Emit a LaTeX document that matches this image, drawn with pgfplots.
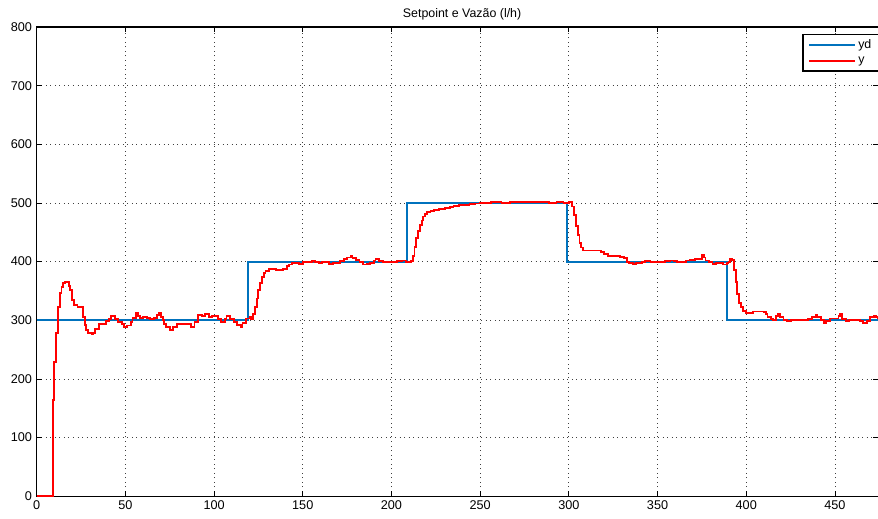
\documentclass[border=0pt]{standalone}
\usepackage{fontspec}
\setmainfont{Liberation Sans}
\usepackage{pgfplots}
\pgfplotsset{compat=1.18}
\definecolor{mblue}{rgb}{0,0.447,0.741}
\begin{document}
\begin{tikzpicture}
\begin{axis}[
 scale only axis, width=631pt, height=351.75pt,
 xmin=0, xmax=474.5, ymin=0, ymax=800,
 xtick={0,50,...,450}, ytick={0,100,...,800},
 grid=major, major grid style={dash pattern=on 0.6pt off 2.8pt, black!75, line width=0.6pt},
 tick align=inside, major tick length=4pt,
 axis line style={black, line width=0.8pt},
 tick style={black, line width=0.6pt},
 ticklabel style={font=\fontsize{9.5}{10}\selectfont},
 /pgf/number format/assume math mode=true,
 title={Setpoint e Vazão (l/h)},
 title style={font=\fontsize{9.3}{10}\selectfont, xshift=3.4pt, yshift=-4pt},
 legend style={at={(0.9096,0.986)}, anchor=north west, draw=black, line width=1.1pt, fill=white,
   font=\fontsize{9.3}{10}\selectfont, row sep=0.4pt, inner xsep=4pt, inner ysep=2.2pt},
 legend cell align=left,
 legend image code/.code={\draw[#1] (0pt,0pt) -- (34pt,0pt);},
]
\addlegendimage{mblue, line width=1.4pt}
\addlegendentry{yd}
\addlegendimage{red, line width=1.4pt}
\addlegendentry{y}
\addplot[const plot, mblue, line width=1.4pt, forget plot] coordinates {
(0,300)(119,400)(209,500)(299,400)(389,300)(475,300)};
\addplot[const plot, red, line width=1.4pt, forget plot] coordinates {
(0,0)(9,164)(10,229)(11,278)(12,322)(13,346)(14,356)(15,363)(16,365)(18,358)(19,351)(20,335)(21,326)(23,323)(25,322)(26,306)(27,292)(28,283)(29,279)(31,276)(32,279)(33,285)(35,293)(37,293)(39,298)(41,302)(42,307)(44,302)(46,297)(48,293)(49,289)(51,291)(53,297)(54,304)(56,313)(57,308)(58,304)(60,306)(62,304)(64,302)(66,304)(68,309)(69,313)(70,306)(71,300)(72,294)(73,289)(75,284)(77,288)(79,294)(82,293)(85,294)(87,288)(89,297)(91,309)(93,307)(95,310)(97,306)(99,307)(102,302)(104,297)(106,302)(107,307)(109,302)(111,297)(113,292)(115,288)(116,296)(118,303)(120,306)(121,302)(122,310)(123,322)(124,337)(125,352)(126,363)(127,374)(128,380)(129,384)(131,387)(133,387)(135,385)(137,386)(139,388)(141,392)(142,395)(144,398)(146,397)(148,396)(150,399)(153,400)(155,401)(157,399)(159,397)(161,400)(163,399)(165,396)(167,397)(169,398)(171,401)(173,404)(175,407)(177,409)(178,406)(180,403)(182,399)(184,395)(186,396)(188,398)(190,402)(191,404)(193,401)(195,400)(199,400)(203,401)(206,402)(208,400)(211,401)(212,410)(213,425)(214,440)(215,452)(216,462)(217,470)(218,477)(219,481)(220,484)(222,486)(224,488)(227,490)(230,491)(233,493)(235,495)(238,496)(241,496)(244,498)(247,499)(250,500)(256,501)(262,500)(267,501)(271,501)(274,502)(278,501)(284,501)(289,500)(293,501)(297,500)(300,501)(302,494)(303,480)(304,460)(305,445)(306,432)(307,424)(308,419)(312,419)(316,419)(318,416)(320,413)(322,410)(324,409)(327,409)(329,408)(331,406)(333,400)(334,397)(336,396)(338,398)(341,400)(343,401)(346,400)(349,399)(352,400)(354,401)(357,402)(359,401)(361,399)(364,400)(366,402)(368,403)(371,404)(374,405)(375,412)(376,407)(377,402)(379,399)(381,396)(383,397)(385,398)(387,395)(389,397)(390,400)(391,404)(392,403)(393,385)(394,365)(395,345)(396,330)(397,322)(398,316)(400,312)(402,312)(404,315)(406,315)(410,314)(411,310)(412,305)(414,302)(415,301)(417,307)(418,310)(419,306)(421,301)(423,299)(425,300)(427,301)(430,301)(433,300)(435,302)(437,306)(439,309)(440,305)(442,300)(444,295)(445,299)(447,303)(450,303)(452,308)(453,310)(454,302)(456,299)(458,301)(461,300)(464,299)(466,295)(468,299)(470,305)(472,308)(473,305)(474,303)(475,303)};
\end{axis}
\pgfresetboundingbox
\path ([xshift=-27.5pt,yshift=-16.5pt]current axis.south west) rectangle ([xshift=-0.3pt,yshift=20.25pt]current axis.north east);
\end{tikzpicture}
\end{document}
